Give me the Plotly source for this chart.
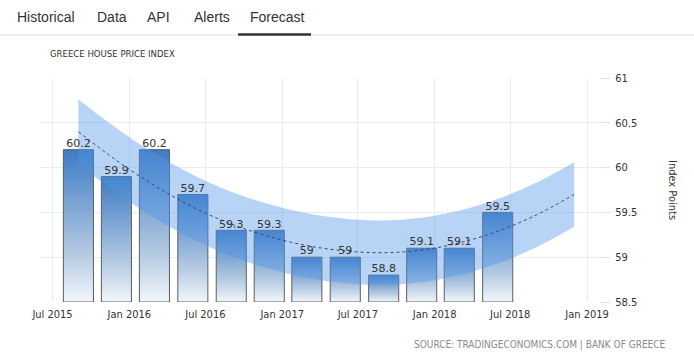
import plotly.graph_objects as go
import pandas as pd

# ---------------- data ----------------
BAR_DATES = ["2015-09-01", "2015-12-01", "2016-03-01", "2016-06-01", "2016-09-01", "2016-12-01",
             "2017-03-01", "2017-06-01", "2017-09-01", "2017-12-01", "2018-03-01", "2018-06-01"]
BAR_VALUES = [60.2, 59.9, 60.2, 59.7, 59.3, 59.3, 59.0, 59.0, 58.8, 59.1, 59.1, 59.5]
BAR_LABELS = ["60.2", "59.9", "60.2", "59.7", "59.3", "59.3", "59", "59", "58.8", "59.1", "59.1", "59.5"]

TREND_DATES = ["2015-09-01", "2015-12-01", "2016-03-01", "2016-06-01", "2016-09-01", "2016-12-01",
               "2017-03-01", "2017-06-01", "2017-09-01", "2017-12-01", "2018-03-01", "2018-06-01",
               "2018-09-01", "2018-12-01"]
TREND_VALUES = [60.40, 60.08, 59.80, 59.56, 59.37, 59.23, 59.13, 59.07, 59.05, 59.08, 59.16, 59.29, 59.47, 59.70]
BAND_UPPER = [60.76, 60.44, 60.16, 59.92, 59.73, 59.59, 59.49, 59.43, 59.41, 59.44, 59.52, 59.65, 59.83, 60.06]
BAND_LOWER = [60.04, 59.72, 59.44, 59.20, 59.01, 58.87, 58.77, 58.71, 58.69, 58.72, 58.80, 58.93, 59.11, 59.34]

X_TICK_DATES = ["2015-07-01", "2016-01-01", "2016-07-01", "2017-01-01", "2017-07-01",
                "2018-01-01", "2018-07-01", "2019-01-01"]
X_TICK_LABELS = ["Jul 2015", "Jan 2016", "Jul 2016", "Jan 2017", "Jul 2017",
                 "Jan 2018", "Jul 2018", "Jan 2019"]
Y_TICKS = [58.5, 59, 59.5, 60, 60.5, 61]
Y_TICK_LABELS = ["58.5", "59", "59.5", "60", "60.5", "61"]
Y_BASE = 58.5

TABS = ["Historical", "Data", "API", "Alerts", "Forecast"]

# ---------------- style ----------------
BAR_WIDTH_DAYS = 72
NARROW = "Liberation Sans Narrow, DejaVu Sans Condensed, Liberation Sans, Arial"
TEXT_C = "#333333"
GRID_C = "#ececec"

fig = go.Figure()

# gradient bars (one polygon per bar so each has its own vertical gradient)
half = pd.Timedelta(days=BAR_WIDTH_DAYS / 2)
for d, v in zip(BAR_DATES, BAR_VALUES):
    c = pd.Timestamp(d)
    l, r = c - half, c + half
    fig.add_trace(go.Scatter(
        x=[l, l, r, r, l], y=[Y_BASE, v, v, Y_BASE, Y_BASE],
        mode="lines", fill="toself",
        fillgradient=dict(type="vertical",
                          colorscale=[[0, "#f3f6fa"], [0.3, "#b7cce3"], [1, "#3d7bc3"]]),
        line=dict(color="#5a5f66", width=1),
        hoverinfo="skip", showlegend=False))

# forecast band
fig.add_trace(go.Scatter(x=TREND_DATES, y=BAND_LOWER, mode="lines", line=dict(width=0, shape="spline"),
                         hoverinfo="skip", showlegend=False))
fig.add_trace(go.Scatter(x=TREND_DATES, y=BAND_UPPER, mode="lines", line=dict(width=0, shape="spline"),
                         fill="tonexty", fillcolor="rgba(84,150,230,0.42)",
                         hoverinfo="skip", showlegend=False))
# trend line
fig.add_trace(go.Scatter(x=TREND_DATES, y=TREND_VALUES, mode="lines",
                         line=dict(color="#2f4a6e", width=1, dash="dot", shape="spline"),
                         showlegend=False))

# bar value labels
fig.add_trace(go.Scatter(x=BAR_DATES, y=BAR_VALUES, mode="text", text=BAR_LABELS,
                         textposition="top center",
                         textfont=dict(family="DejaVu Sans", size=11, color=TEXT_C),
                         hoverinfo="skip", showlegend=False, cliponaxis=False))

fig.update_layout(
    width=694, height=359,
    margin=dict(l=40, r=94, t=78, b=57),
    paper_bgcolor="white", plot_bgcolor="white",
    showlegend=False,
    xaxis=dict(type="date", range=["2015-06-01", "2019-02-01"],
               tickvals=X_TICK_DATES, ticktext=X_TICK_LABELS,
               showgrid=True, gridcolor=GRID_C, gridwidth=1,
               zeroline=False, showline=False, ticks="",
               ticklabelstandoff=4,
               tickfont=dict(family=NARROW, size=11, color=TEXT_C)),
    yaxis=dict(range=[58.5, 61], side="right",
               tickvals=Y_TICKS, ticktext=Y_TICK_LABELS,
               showgrid=True, gridcolor=GRID_C, gridwidth=1,
               zeroline=False, showline=False,
               ticks="outside", ticklen=9, tickcolor="#e2e2e2",
               ticklabelstandoff=3,
               tickfont=dict(family=NARROW, size=11, color=TEXT_C)),
)

# header tabs
tab_x = [15, 95, 145, 192, 248]
for t, x in zip(TABS, tab_x):
    fig.add_annotation(text=t, xref="paper", yref="paper", x=(x - 40) / 560, y=1 + (78 - 17) / 224,
                       xanchor="left", yanchor="middle", showarrow=False,
                       font=dict(family="Liberation Sans, Arial", size=14, color=TEXT_C))
fig.add_shape(type="line", xref="paper", yref="paper",
              x0=(0 - 40) / 560, x1=(694 - 40) / 560, y0=1 + (78 - 35) / 224, y1=1 + (78 - 35) / 224,
              line=dict(color="#dedede", width=1))
fig.add_shape(type="line", xref="paper", yref="paper",
              x0=(238 - 40) / 560, x1=(311 - 40) / 560, y0=1 + (78 - 34.5) / 224, y1=1 + (78 - 34.5) / 224,
              line=dict(color="#333333", width=2.5))

# chart title
fig.add_annotation(text="GREECE HOUSE PRICE INDEX", xref="paper", yref="paper",
                   x=(48 - 40) / 560, y=1 + (78 - 53) / 224, xanchor="left", yanchor="middle",
                   showarrow=False, font=dict(family=NARROW, size=9.5, color=TEXT_C))

# y axis title (reads top-to-bottom)
fig.add_annotation(text="Index Points", xref="paper", yref="paper",
                   x=(673 - 40) / 560, y=1 - (190 - 78) / 224, xanchor="center", yanchor="middle",
                   textangle=90, showarrow=False,
                   font=dict(family=NARROW, size=11, color=TEXT_C))

# source
fig.add_annotation(text="SOURCE: TRADINGECONOMICS.COM | BANK OF GREECE", xref="paper", yref="paper",
                   x=(668 - 40) / 560, y=-(345 - 302) / 224, xanchor="right", yanchor="middle",
                   showarrow=False, font=dict(family=NARROW, size=10, color="#8a8a8a"))

fig.write_html("out.html", config={"displayModeBar": False},
               post_script="document.body.style.margin='0px';document.body.style.overflow='hidden';")
